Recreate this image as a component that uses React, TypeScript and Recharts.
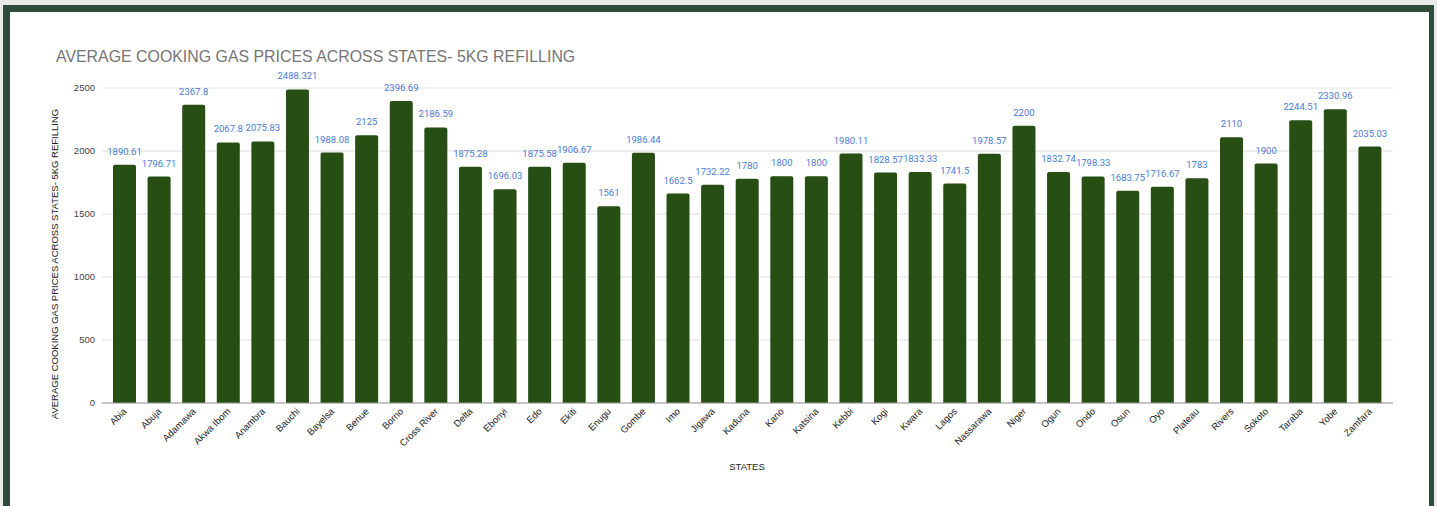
import React from "react";
import { BarChart, Bar, XAxis, YAxis, CartesianGrid, LabelList, Label } from "recharts";

const states = [
  "Abia", "Abuja", "Adamawa", "Akwa Ibom", "Anambra", "Bauchi", "Bayelsa", "Benue", "Borno", "Cross River",
  "Delta", "Ebonyi", "Edo", "Ekiti", "Enugu", "Gombe", "Imo", "Jigawa", "Kaduna", "Kano",
  "Katsina", "Kebbi", "Kogi", "Kwara", "Lagos", "Nassarawa", "Niger", "Ogun", "Ondo", "Osun",
  "Oyo", "Plateau", "Rivers", "Sokoto", "Taraba", "Yobe", "Zamfara",
];

const prices = [
  1890.61, 1796.71, 2367.8, 2067.8, 2075.83, 2488.321, 1988.08, 2125, 2396.69, 2186.59,
  1875.28, 1696.03, 1875.58, 1906.67, 1561, 1986.44, 1662.5, 1732.22, 1780, 1800,
  1800, 1980.11, 1828.57, 1833.33, 1741.5, 1978.57, 2200, 1832.74, 1798.33, 1683.75,
  1716.67, 1783, 2110, 1900, 2244.51, 2330.96, 2035.03,
];

const yTicks = [0, 500, 1000, 1500, 2000, 2500];

const title = "AVERAGE COOKING GAS PRICES ACROSS STATES- 5KG REFILLING";
const yLabel = "AVERAGE COOKING GAS PRICES ACROSS STATES- 5KG REFILLING";
const xLabel = "STATES";

const data = states.map((s, i) => ({ state: s, price: prices[i] }));

const FONT = "'Liberation Sans', Arial, sans-serif";

const XTick = (props: any) => {
  const { x, payload } = props;
  const ax = x + 3;
  const ay = 412;
  return (
    <text
      x={ax}
      y={ay}
      transform={`rotate(-45, ${ax}, ${ay})`}
      textAnchor="end"
      fontSize={9.5}
      fontFamily={FONT}
      fill="#222"
    >
      {payload.value}
    </text>
  );
};

export default function App() {
  return (
    <div style={{ position: "absolute", left: 0, top: 0, width: 1437, height: 506, background: "#e8e9e8", overflow: "hidden" }}>
      <div style={{ position: "absolute", left: 3, top: 5, width: 1431, height: 501, background: "#2e4b3b" }} />
      <div style={{ position: "absolute", left: 10, top: 12, width: 1419, height: 494, background: "#ffffff" }} />
      <div
        style={{
          position: "absolute",
          left: 56,
          top: 47,
          fontFamily: FONT,
          fontSize: 15.9,
          color: "#757575",
          whiteSpace: "nowrap",
          lineHeight: "20px",
        }}
      >
        {title}
      </div>
      <div style={{ position: "absolute", left: 0, top: 0 }}>
        <BarChart
          width={1437}
          height={506}
          data={data}
          margin={{ top: 88, right: 44, left: 0, bottom: 0 }}
          barSize={23}
        >
          <CartesianGrid vertical={false} stroke="#e0e0e0" />
          <XAxis
            dataKey="state"
            interval={0}
            height={103}
            padding={{ left: 5, right: 6 }}
            tickLine={false}
            axisLine={{ stroke: "#999999" }}
            tick={<XTick />}
          >
            <Label
              content={() => (
                <text x={747} y={470} textAnchor="middle" fontSize={9.5} fontFamily={FONT} fill="#222">
                  {xLabel}
                </text>
              )}
            />
          </XAxis>
          <YAxis
            width={102}
            domain={[0, 2500]}
            ticks={yTicks}
            tickLine={false}
            axisLine={false}
            tickSize={0}
            tickMargin={7}
            tick={{ fontSize: 9.5, fontFamily: FONT, fill: "#444" }}
          >
            <Label
              content={() => (
                <text
                  x={58}
                  y={264}
                  transform="rotate(-90, 58, 264)"
                  textAnchor="middle"
                  fontSize={9.5}
                  fontFamily={FONT}
                  fill="#222"
                >
                  {yLabel}
                </text>
              )}
            />
          </YAxis>
          <Bar dataKey="price" fill="#274e13" isAnimationActive={false} radius={[2, 2, 0, 0]}>
            <LabelList
              dataKey="price"
              position="top"
              offset={10}
              fill="#4a7bd3"
              fontSize={9.5}
              fontFamily="Roboto, sans-serif"
            />
          </Bar>
        </BarChart>
      </div>
    </div>
  );
}
